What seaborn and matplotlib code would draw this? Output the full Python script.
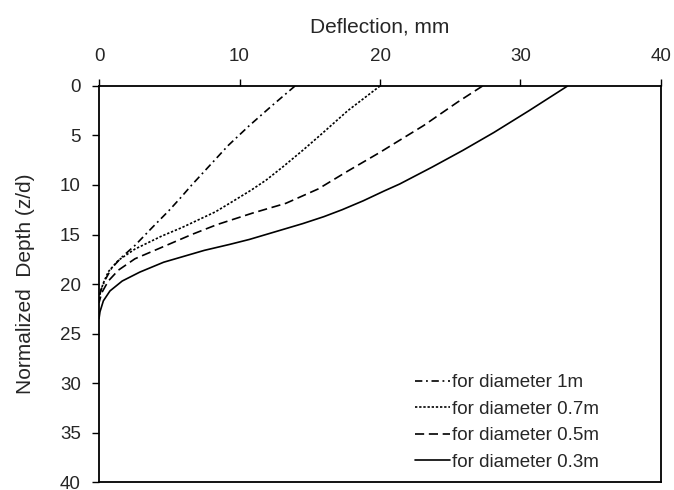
import numpy as np
import pandas as pd
import seaborn as sns
import matplotlib
matplotlib.use("Agg")
import matplotlib.pyplot as plt

# Прогиб сваи по глубине
depth_1m = [0, 2, 4, 6, 8, 10, 11.3, 12.55, 14.35, 16.1, 17.3, 18.4, 19.6, 20.6, 21.5]
defl_1m = [13.95, 12.3, 10.7, 9.2, 7.9, 6.6, 5.8, 5.0, 3.75, 2.56, 1.61, 0.9, 0.43, 0.14, 0.0]

depth_07m = [0, 2.5, 4.9, 6.5, 8.15, 9.5, 10.5, 11.5, 12.7, 13.5, 14.3, 15.16, 16.47, 17.6, 18.76, 19.9, 20.9, 21.5]
defl_07m = [20.0, 17.7, 15.8, 14.5, 13.1, 11.9, 10.85, 9.7, 8.3, 7.1, 5.9, 4.46, 2.56, 1.38, 0.66, 0.31, 0.07, 0.0]

depth_05m = [0, 1.65, 4.0, 6.0, 6.7, 8.6, 10.4, 11.85, 12.85, 14.0, 15.0, 16.3, 17.45, 18.6, 19.7, 20.9, 21.9]
defl_05m = [27.3, 25.5, 23.1, 20.8, 20.0, 17.7, 15.6, 13.3, 10.9, 8.4, 6.6, 4.46, 2.56, 1.38, 0.66, 0.19, 0.0]

depth_03m = [0, 2.5, 4.7, 6.5, 8.2, 9.9, 10.6, 11.6, 12.5, 13.2, 13.9, 14.7, 15.5, 16.0, 16.6, 17.8, 18.8, 19.7, 20.7, 21.7, 22.8, 23.5]
defl_03m = [33.35, 30.6, 28.1, 25.9, 23.7, 21.4, 20.3, 18.8, 17.3, 16.0, 14.5, 12.6, 10.7, 9.3, 7.5, 4.6, 2.9, 1.65, 0.78, 0.31, 0.07, 0.0]

labels = ["for diameter 1m", "for diameter 0.7m", "for diameter 0.5m", "for diameter 0.3m"]

frames = []
for lab, d, x in zip(labels,
                     [depth_1m, depth_07m, depth_05m, depth_03m],
                     [defl_1m, defl_07m, defl_05m, defl_03m]):
    frames.append(pd.DataFrame({"depth": d, "defl": x, "series": lab}))
df = pd.concat(frames, ignore_index=True)

sns.set_style("white")
plt.rcParams['font.family'] = ['Liberation Sans', 'DejaVu Sans']

fig = plt.figure(figsize=(6.74, 4.90), dpi=100)
ax = fig.add_axes([0.1469, 0.0163, 0.8338, 0.8082])

dashes = {
    labels[0]: (4.4, 2.2, 1.1, 2.2),
    labels[1]: (1.4, 1.1),
    labels[2]: (5.5, 2.8),
    labels[3]: "",
}
sns.lineplot(data=df, x="defl", y="depth", style="series", style_order=labels,
             dashes=dashes, color="black", linewidth=1.2, sort=False,
             estimator=None, ax=ax)

ax.set_xlim(0, 40)
ax.set_ylim(40, 0)
ax.set_xticks([0, 10, 20, 30, 40])
ax.set_yticks(np.arange(0, 41, 5))
ax.xaxis.tick_top()
ax.xaxis.set_label_position("top")
ax.tick_params(axis="both", direction="out", length=5, width=1, color="black",
               labelsize=13.5)
ax.tick_params(axis="x", top=True, bottom=False, pad=10)
ax.tick_params(axis="y", left=True, right=False, pad=8)
ax.set_xlabel("Deflection, mm", fontsize=15, labelpad=11)
ax.set_ylabel("Normalized  Depth (z/d)", fontsize=15, labelpad=18)
for s in ax.spines.values():
    s.set_color("black")
    s.set_linewidth(1.3)

ax.legend(title=None, loc="lower left", bbox_to_anchor=(0.616, 0.039),
          bbox_transform=fig.transFigure, frameon=False, fontsize=13.5,
          handlelength=1.87, handletextpad=0.1, labelspacing=0.5,
          borderpad=0, borderaxespad=0)

fig.savefig("out.png", dpi=100)
